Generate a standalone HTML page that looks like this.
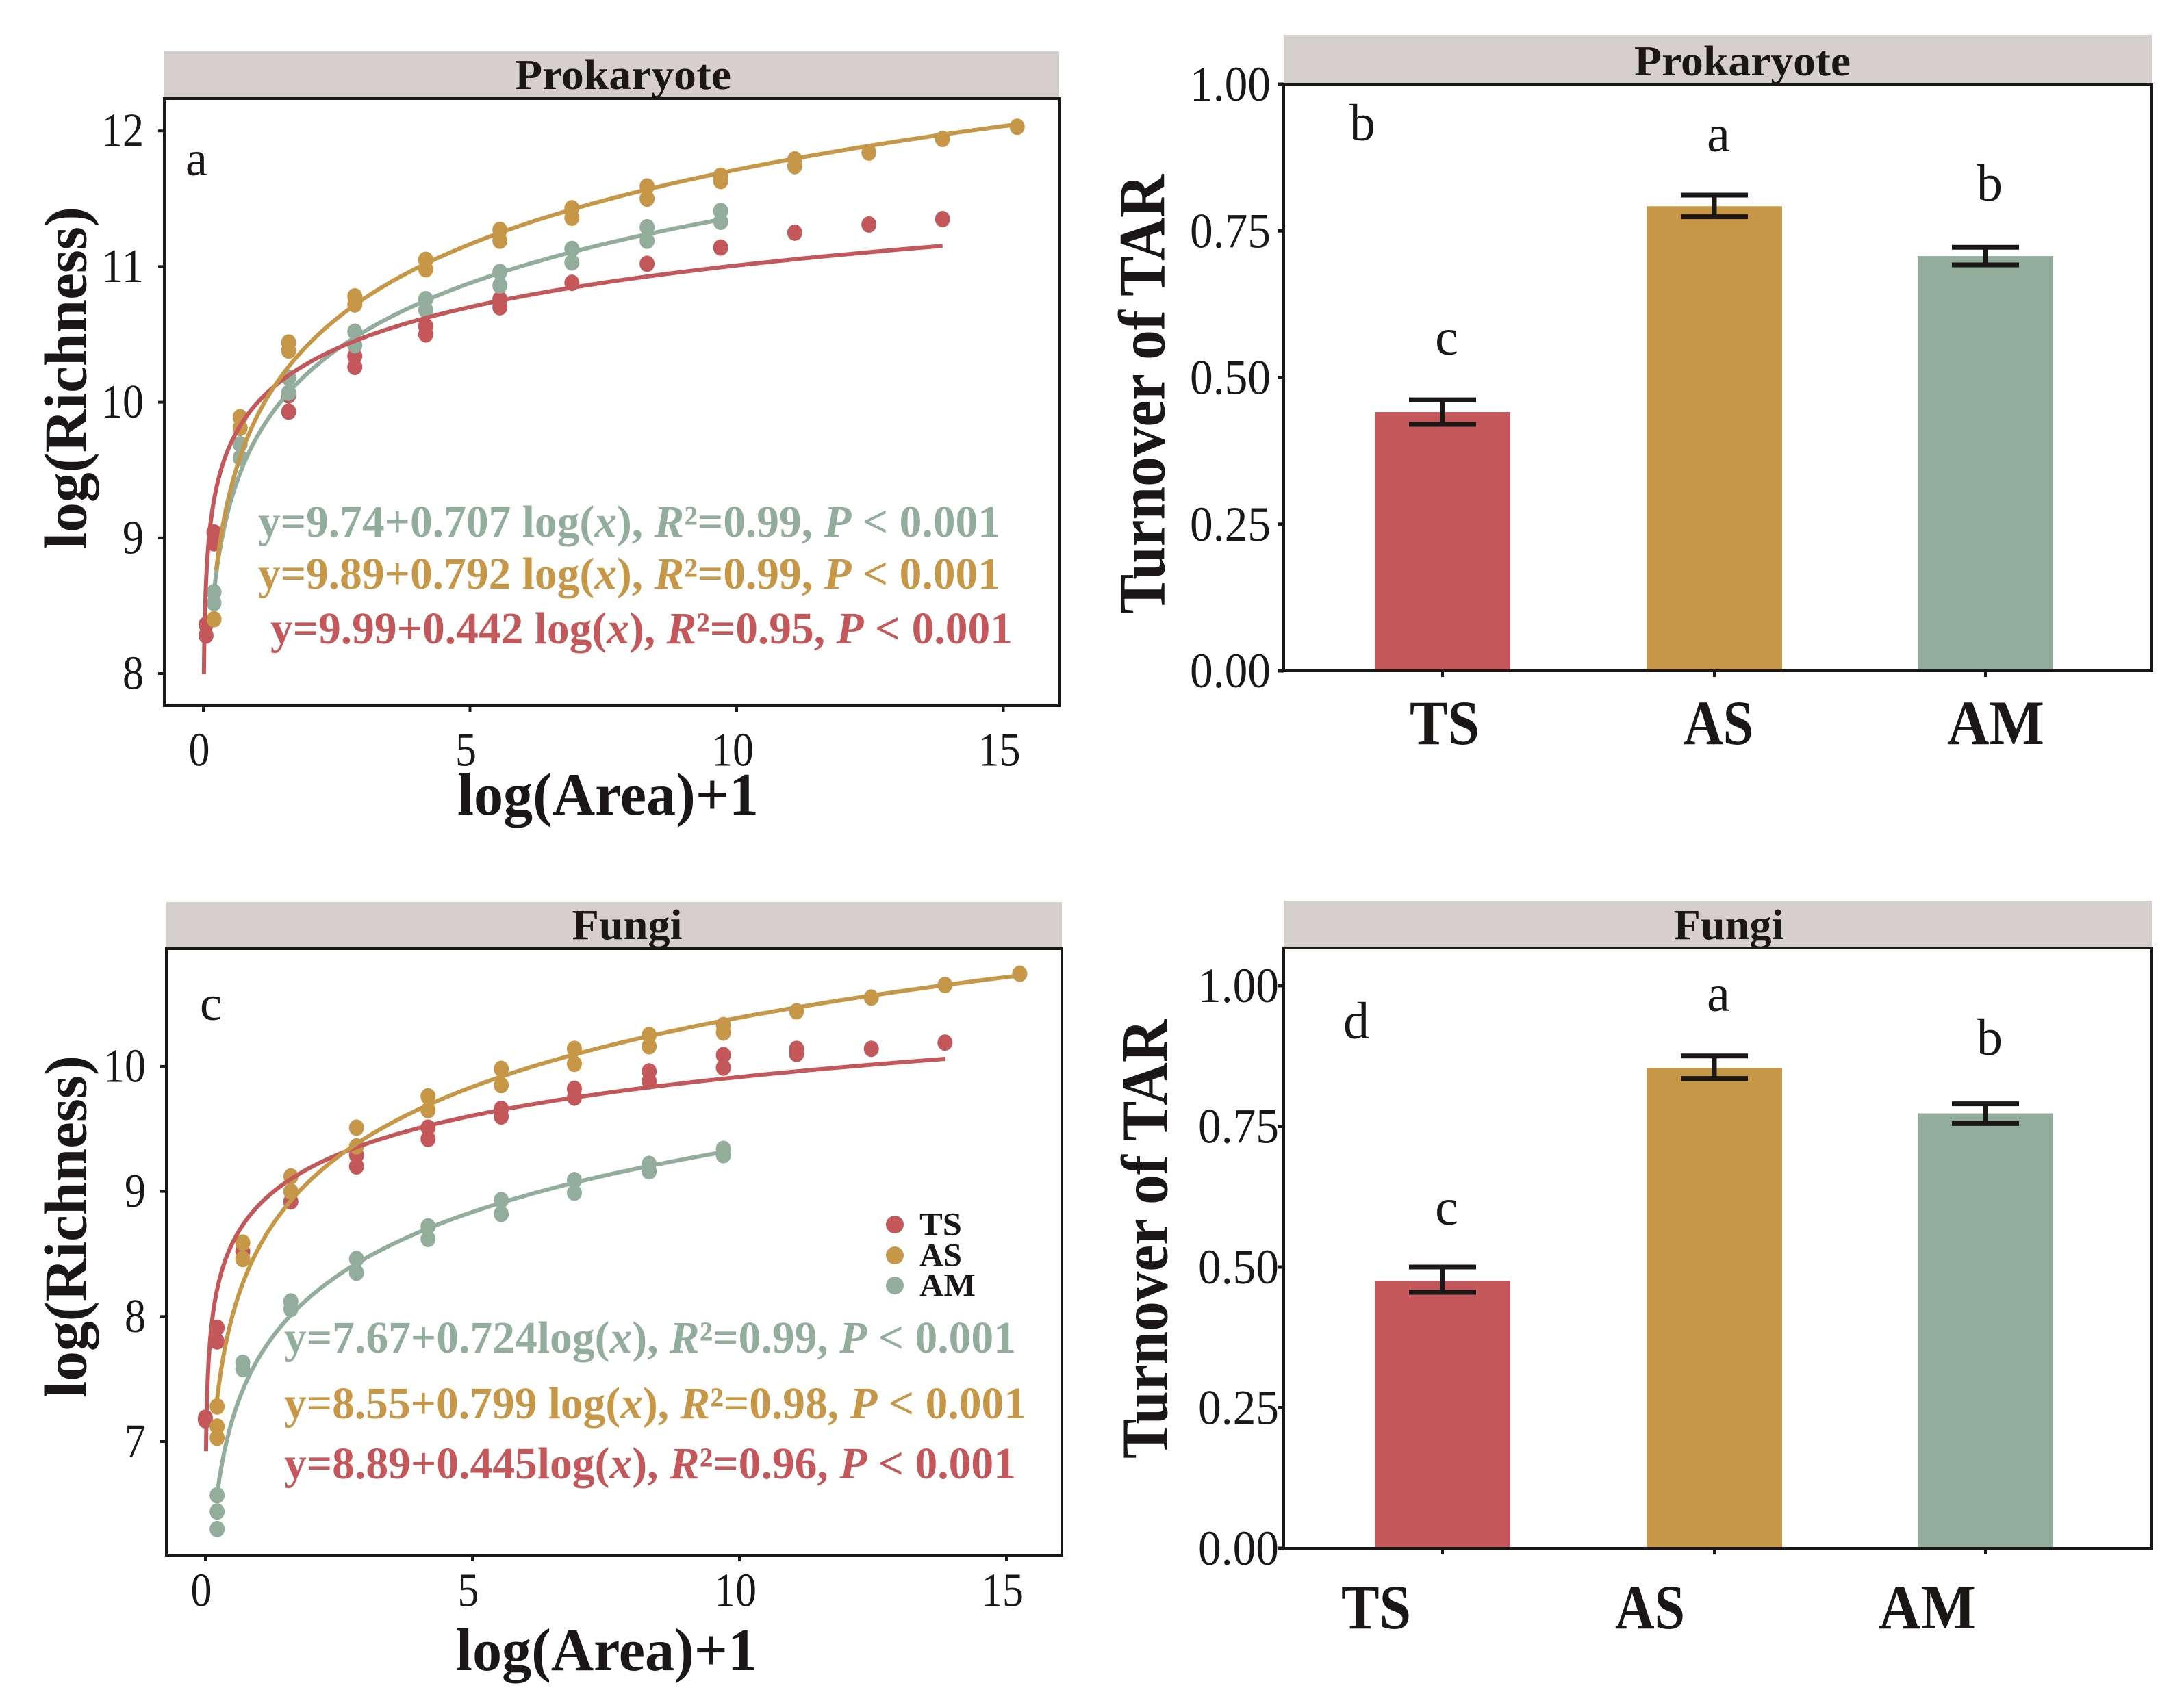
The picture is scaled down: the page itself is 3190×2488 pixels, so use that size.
<!DOCTYPE html>
<html><head><meta charset="utf-8">
<style>
html,body{margin:0;padding:0;background:#fff;}
svg{display:block;}
text{font-family:"Liberation Serif",serif;fill:#1a1716;}
</style></head>
<body>
<svg id="fig" width="3190" height="2488" viewBox="0 0 3190 2488" xmlns="http://www.w3.org/2000/svg">
<rect x="0" y="0" width="3190" height="2488" fill="#fff"/>
</svg>
<script>
// ---------- DATA ----------
const groups = ["TS","AS","AM"];
const colors = {TS:"#c4575a", AS:"#c69746", AM:"#93ad9c"};

// Panel a (Prokaryote) points: x = log(Area)+1
const aTSx = [0.05,0.05,0.2,0.2,1.6,1.6,2.84,2.84,4.17,4.17,5.56,5.56,6.91,8.32,9.7,11.09,12.48,13.86];
const aTSy = [8.36,8.28,9.04,8.96,10.05,9.93,10.34,10.26,10.56,10.50,10.76,10.70,10.88,11.02,11.14,11.25,11.31,11.35];
const aASx = [0.2,0.69,0.69,1.6,1.6,2.84,2.84,4.17,4.17,5.56,5.56,6.91,6.91,8.32,8.32,9.7,9.7,11.09,11.09,12.48,13.86,15.26];
const aASy = [8.40,9.89,9.81,10.44,10.38,10.78,10.72,11.05,10.98,11.27,11.19,11.43,11.36,11.59,11.50,11.67,11.63,11.79,11.74,11.84,11.94,12.03];
const aAMx = [0.2,0.2,0.69,0.69,1.6,1.6,2.84,2.84,4.17,4.17,5.56,5.56,6.91,6.91,8.32,8.32,9.7,9.7];
const aAMy = [8.60,8.52,9.69,9.59,10.18,10.07,10.52,10.42,10.76,10.68,10.96,10.86,11.13,11.03,11.29,11.19,11.41,11.33];
// fit coefficients (intercept, slope, xmin, xmax)
const aFitTS = [9.99,0.442,0.011,13.86];
const aFitAS = [9.89,0.792,0.24,15.26];
const aFitAM = [9.74,0.707,0.2,9.7];
const aEq = ["y=9.74+0.707 log(x), R²=0.99, P < 0.001","y=9.89+0.792 log(x), R²=0.99, P < 0.001","y=9.99+0.442 log(x), R²=0.95, P < 0.001"];

// Panel c (Fungi)
const cTSx = [0.0,0.0,0.22,0.22,0.7,1.6,2.83,2.83,4.17,4.17,5.54,5.54,6.91,6.91,8.31,8.31,9.7,9.7,11.07,11.07,12.47,13.85];
const cTSy = [7.19,7.17,7.91,7.80,8.52,8.92,9.29,9.20,9.51,9.42,9.66,9.60,9.82,9.75,9.96,9.88,10.09,9.99,10.14,10.10,10.14,10.19];
const cASx = [0.22,0.22,0.22,0.7,0.7,1.6,1.6,2.83,2.83,4.17,4.17,5.54,5.54,6.91,6.91,8.31,8.31,9.7,9.7,11.07,12.47,13.85,15.25];
const cASy = [7.28,7.12,7.03,8.59,8.46,9.12,9.00,9.51,9.36,9.76,9.65,9.98,9.85,10.14,10.02,10.25,10.16,10.33,10.27,10.44,10.55,10.65,10.74];
const cAMx = [0.22,0.22,0.22,0.7,0.7,1.6,1.6,2.83,2.83,4.17,4.17,5.54,5.54,6.91,6.91,8.31,8.31,9.7,9.7];
const cAMy = [6.57,6.44,6.30,7.63,7.58,8.12,8.06,8.46,8.35,8.72,8.62,8.93,8.82,9.09,8.99,9.22,9.16,9.34,9.29];
const cFitTS = [8.89,0.445,0.012,13.85];
const cFitAS = [8.55,0.799,0.2,15.25];
const cFitAM = [7.67,0.724,0.22,9.7];
const cEq = ["y=7.67+0.724log(x), R²=0.99, P < 0.001","y=8.55+0.799 log(x), R²=0.98, P < 0.001","y=8.89+0.445log(x), R²=0.96, P < 0.001"];

// Bar panels
const bMeans = [0.441,0.792,0.707];
const bLow = [0.420,0.774,0.692];
const bHigh = [0.462,0.811,0.722];
const bLetters = ["c","a","b"];
const dMeans = [0.475,0.854,0.773];
const dLow = [0.455,0.835,0.755];
const dHigh = [0.500,0.875,0.790];
const dLetters = ["c","a","b"];
const barTicks = [0,0.25,0.5,0.75,1.0];
const barTickLabels = ["0.00","0.25","0.50","0.75","1.00"];
const xTicks = [0,5,10,15];
const xTickLabels = ["0","5","10","15"];
const aYTicks = [8,9,10,11,12];
const cYTicks = [7,8,9,10];

// ---------- DRAW ----------
const NS="http://www.w3.org/2000/svg";
const svg=document.getElementById('fig');
function mk(tag,attrs,parent){const e=document.createElementNS(NS,tag);for(const k in attrs)e.setAttribute(k,attrs[k]);(parent||svg).appendChild(e);return e;}
function txt(s,attrs,parent){const e=mk('text',attrs,parent);e.textContent=s;return e;}

function strip(x0,y0,x1,y1,label,cx,cy,w){
  const r=mk('rect',{x:x0,y:y0,width:x1-x0,height:y1-y0,fill:'#d5cfcd'});
  
  
  const t=txt(label,{x:cx,y:cy,'text-anchor':'middle','dominant-baseline':'central','font-size':62,'font-weight':'bold',textLength:w,lengthAdjust:'spacingAndGlyphs'});
  
  
}

function scatterPanel(P){
  const g=mk('g',{});
  
  
  const sx=v=>P.x0px+(v-0)*P.xu;
  const sy=v=>P.yRefPx-(v-P.yRef)*P.yu;
  strip(P.L,P.stripTop,P.R,P.T,P.title,P.stripCx,P.stripCy,P.stripW);
  const fits=[[P.fitAM,'AM'],[P.fitTS,'TS'],[P.fitAS,'AS']];
  const pts=[[P.TSx,P.TSy,'TS'],[P.ASx,P.ASy,'AS'],[P.AMx,P.AMy,'AM']];
  pts.forEach(([xs,ys,k])=>{
    xs.forEach((xv,i)=>{
      const c=mk('ellipse',{cx:sx(xv),cy:sy(ys[i]),rx:11,ry:12,fill:colors[k]},g);
      
      
    });
  });
  fits.forEach(([f,k])=>{
    let d='';const n=200;
    for(let i=0;i<=n;i++){
      const lx=Math.log(f[2])+(Math.log(f[3])-Math.log(f[2]))*i/n;
      const xv=Math.exp(lx);const yv=f[0]+f[1]*Math.log(xv);
      d+=(i?'L':'M')+sx(xv).toFixed(1)+','+sy(yv).toFixed(1);
    }
    const p=mk('path',{d:d,fill:'none',stroke:colors[k],'stroke-width':6},g);
    
    
  });
  const b=mk('rect',{x:P.L,y:P.T,width:P.R-P.L,height:P.B-P.T,fill:'none',stroke:'#1a1716','stroke-width':4});
  
  
  P.yTicks.forEach(v=>{
    mk('line',{x1:P.L-9,x2:P.L,y1:sy(v),y2:sy(v),stroke:'#1a1716','stroke-width':4});
    const t=txt(String(v),{x:P.L-30,y:sy(v),'text-anchor':'end','dominant-baseline':'central','font-size':70,textLength:String(v).length*31,lengthAdjust:'spacingAndGlyphs'});
    
    
  });
  xTicks.forEach((v,i)=>{
    mk('line',{x1:sx(v),x2:sx(v),y1:P.B,y2:P.B+9,stroke:'#1a1716','stroke-width':4});
    const s=xTickLabels[i];
    const t=txt(s,{x:sx(v)-6,y:P.xLabY,'text-anchor':'middle','dominant-baseline':'central','font-size':70,textLength:s.length*31,lengthAdjust:'spacingAndGlyphs'});
    
    
  });
  const xt=txt('log(Area)+1',{x:P.xTitleX,y:P.xTitleY,'text-anchor':'middle','font-size':88,'font-weight':'bold',textLength:440,lengthAdjust:'spacingAndGlyphs'});
  
  
  const yt=txt('log(Richness)',{x:0,y:0,'text-anchor':'middle','dominant-baseline':'central','font-size':88,'font-weight':'bold',textLength:500,lengthAdjust:'spacingAndGlyphs',transform:`translate(${P.yTitleX},${P.yTitleY}) rotate(-90)`});
  
  
  const pl=txt(P.letter,{x:P.letterX,y:P.letterY,'text-anchor':'middle','dominant-baseline':'central','font-size':72});
  
  
  const eqCols=[colors.AM,colors.AS,colors.TS];
  P.eq.forEach((s,i)=>{
    const t=mk('text',{x:P.eqX[i],y:P.eqY[i],'font-size':66,'font-weight':'bold',textLength:P.eqW[i],lengthAdjust:'spacingAndGlyphs'});
    
    
    const m=s.match(/^(y=[^l]+log\()x(\), )R(²=[0-9.]+, )P( < 0\.001)$/);
    const parts=[[m[1],0],['x',1],[m[2],0],['R',1],[m[3],0],['P',1],[m[4],0]];
    parts.forEach(([str,it])=>{const ts=mk('tspan',{fill:eqCols[i]},t);if(it)ts.setAttribute('font-style','italic');ts.textContent=str;});
  });
}

scatterPanel({name:'panel-a-prokaryote-tar',title:'Prokaryote',letter:'a',L:240,R:1547,T:144,B:1031,stripTop:75,stripCx:910,stripCy:110,stripW:316,
  x0px:297,xu:77.9,yRef:8,yRefPx:984,yu:198.2,yTicks:aYTicks,xLabY:1096,xTitleX:888,xTitleY:1190,yTitleX:97,yTitleY:552,
  letterX:287,letterY:232,
  TSx:aTSx,TSy:aTSy,ASx:aASx,ASy:aASy,AMx:aAMx,AMy:aAMy,fitTS:aFitTS,fitAS:aFitAS,fitAM:aFitAM,
  eq:aEq,eqX:[377,377,395],eqY:[784,860,940],eqW:[1084,1084,1084]});

scatterPanel({name:'panel-c-fungi-tar',title:'Fungi',letter:'c',L:243,R:1551,T:1386,B:2272,stripTop:1318,stripCx:916,stripCy:1352,stripW:161,
  x0px:300,xu:78.0,yRef:7,yRefPx:2106,yu:182.7,yTicks:cYTicks,xLabY:2324,xTitleX:886,xTitleY:2440,yTitleX:97,yTitleY:1792,
  letterX:308,letterY:1466,
  TSx:cTSx,TSy:cTSy,ASx:cASx,ASy:cASy,AMx:cAMx,AMy:cAMy,fitTS:cFitTS,fitAS:cFitAS,fitAM:cFitAM,
  eq:cEq,eqX:[415,415,415],eqY:[1976,2072,2160],eqW:[1069,1084,1069]});

const legY=[1789,1834,1878];
groups.forEach((k,i)=>{
  const c=mk('circle',{cx:1307,cy:legY[i],r:13,fill:colors[k]});
  
  
  const t=txt(k,{x:1343,y:legY[i],'dominant-baseline':'central','font-size':48,'font-weight':'bold',textLength:k==='AM'?82:62,lengthAdjust:'spacingAndGlyphs'});
  
  
});

function barPanel(P){
  const g=mk('g',{});
  
  
  const sy=v=>P.zeroPx-v*(P.zeroPx-P.onePx);
  strip(P.L,P.stripTop,P.R,P.T,P.title,P.stripCx,P.stripCy,P.stripW);
  const centers=[2107,2504,2900];
  P.means.forEach((v,i)=>{
    const r=mk('rect',{x:centers[i]-99,y:sy(v),width:198,height:sy(0)-sy(v),fill:colors[groups[i]]},g);
    
    
    const eb=mk('path',{d:`M${centers[i]-49},${sy(P.high[i])}H${centers[i]+49}M${centers[i]-49},${sy(P.low[i])}H${centers[i]+49}M${centers[i]},${sy(P.high[i])}V${sy(P.low[i])}`,stroke:'#1a1716','stroke-width':7,fill:'none'},g);
    
    
    const lt=txt(P.letters[i],{x:centers[i]+6,y:P.letterY[i],'text-anchor':'middle','dominant-baseline':'central','font-size':76});
    
    
    mk('line',{x1:centers[i],x2:centers[i],y1:P.B,y2:P.B+9,stroke:'#1a1716','stroke-width':4});
    const cl=txt(groups[i],{x:P.catX[i],y:P.catY,'text-anchor':'middle','dominant-baseline':'central','font-size':92,'font-weight':'bold',textLength:groups[i]==='AM'?142:102,lengthAdjust:'spacingAndGlyphs'});
    
    
  });
  const b=mk('rect',{x:P.L,y:P.T,width:P.R-P.L,height:P.B-P.T,fill:'none',stroke:'#1a1716','stroke-width':4});
  
  
  barTicks.forEach((v,i)=>{
    mk('line',{x1:P.L-9,x2:P.L,y1:sy(v),y2:sy(v),stroke:'#1a1716','stroke-width':5});
    const t=txt(barTickLabels[i],{x:P.tickRight,y:sy(v),'text-anchor':'end','dominant-baseline':'central','font-size':72,textLength:118,lengthAdjust:'spacingAndGlyphs'});
    
    
  });
  const yt=txt('Turnover of TAR',{x:0,y:0,'text-anchor':'middle','dominant-baseline':'central','font-size':96,'font-weight':'bold',textLength:642,lengthAdjust:'spacingAndGlyphs',transform:`translate(${P.yTitleX},${P.yTitleY}) rotate(-90)`});
  
  
  const pl=txt(P.letter,{x:P.letterX,y:P.letterPY,'text-anchor':'middle','dominant-baseline':'central','font-size':76});
  
  
}

barPanel({name:'panel-b-prokaryote-turnover',title:'Prokaryote',L:1875,R:3143,T:123,B:980,stripTop:51,stripCx:2545,stripCy:90,stripW:316,
  zeroPx:980,onePx:123,means:bMeans,low:bLow,high:bHigh,letters:bLetters,letterY:[493,196,268],
  catX:[2110,2510,2915],catY:1056,tickRight:1856,yTitleX:1668,yTitleY:576,letter:'b',letterX:1990,letterPY:180});

barPanel({name:'panel-d-fungi-turnover',title:'Fungi',L:1875,R:3143,T:1385,B:2262,stripTop:1316,stripCx:2525,stripCy:1352,stripW:161,
  zeroPx:2262,onePx:1440,means:dMeans,low:dLow,high:dHigh,letters:dLetters,letterY:[1764,1452,1516],
  catX:[2010,2410,2815],catY:2348,tickRight:1868,yTitleX:1672,yTitleY:1810,letter:'d',letterX:1981,letterPY:1492});
</script>
</body></html>
